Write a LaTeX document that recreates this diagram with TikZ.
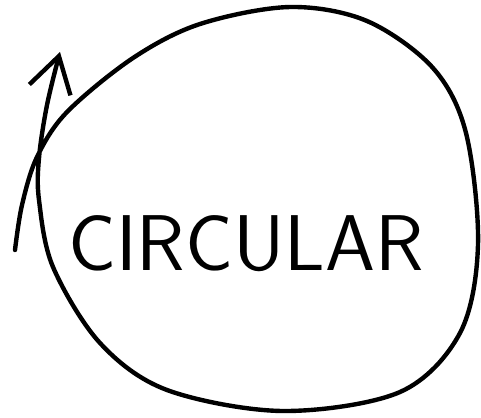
\documentclass[tikz,border=0pt]{standalone}
\usepackage{tikz}
\usetikzlibrary{arrows.meta}
\tikzstyle{loopline} = [line width=2.5pt, line cap=round, line join=round,
  -{Straight Barb[length=7mm, width=8.5mm, line width=2.5pt]}]
\tikzstyle{word} = [inner sep=0pt, font=\sffamily\fontsize{45}{50}\selectfont]

\begin{document}
\begin{tikzpicture}[x=0.02cm, y=-0.02cm]
    \useasboundingbox (0,0) rectangle (481,417);
    \node[word] (label) at (246,244) {\scalebox{1.01}[1]{CIRCULAR}};
    \draw[loopline] plot[smooth, tension=0.55] coordinates {
      (15,250) (22,205) (37,157) (67,112) (133,58) (200,24) (290,7)
      (367,21) (433,68) (466,133) (478,245) (460,333) (400,392)
      (283,411) (167,390) (100,343) (53,267) (39,200) (39,158) (47,105) (60,52)};
  \end{tikzpicture}
\end{document}
